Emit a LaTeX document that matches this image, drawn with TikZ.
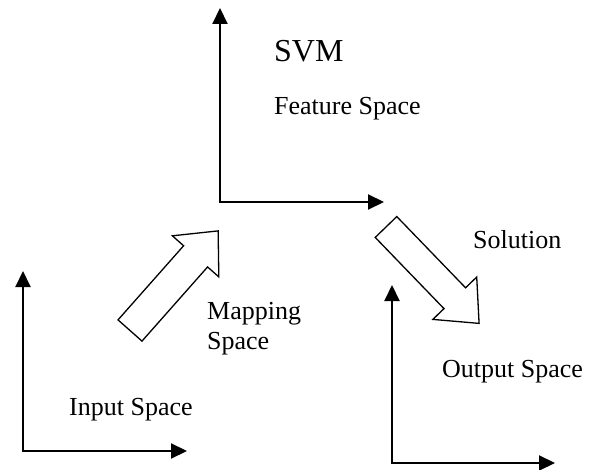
\documentclass[tikz,border=0pt]{standalone}
\usepackage{fontspec}
\setmainfont{Liberation Serif}
\usetikzlibrary{arrows.meta}
\tikzstyle{axis} = [draw, line width=2bp, {Triangle[length=16bp,width=15bp]}-{Triangle[length=16bp,width=15bp]}]
\tikzstyle{fat} = [draw, line width=1.3bp, line join=miter]
\tikzstyle{txt} = [inner sep=0pt, anchor=base west, align=left, font=\fontsize{26bp}{30bp}\selectfont]

\begin{document}
\begin{tikzpicture}[x=1bp, y=-1bp]
    \useasboundingbox (0,0) rectangle (597,470);

    % axes
    \coordinate (feat) at (220,202);
    \coordinate (featy) at (220,8);
    \coordinate (featx) at (384,202);
    \coordinate (inp) at (23,451);
    \coordinate (inpy) at (23,271);
    \coordinate (inpx) at (187,451);
    \coordinate (outp) at (392,463);
    \coordinate (outpy) at (392,285);
    \coordinate (outpx) at (555,463);

    \draw[axis] (featy) -- (feat) -- (featx);
    \draw[axis] (inpy) -- (inp) -- (inpx);
    \draw[axis] (outpy) -- (outp) -- (outpx);

    % fat arrows
    \begin{scope}[shift={(130,330.5)}, rotate=48.5]
    \draw[fat] (0,-16) -- (99,-16) -- (99,-31) -- (133,0) -- (99,31) -- (99,16) -- (0,16) -- cycle;
    \end{scope}
    \begin{scope}[shift={(386,227)}, rotate=-46]
    \draw[fat] (0,-15) -- (99,-15) -- (99,-30.5) -- (134,0) -- (99,30.5) -- (99,15) -- (0,15) -- cycle;
    \end{scope}

    % labels
    \node [txt, font=\fontsize{32bp}{36bp}\selectfont] (svm) at (274,62) {SVM};
    \node [txt] (feature) at (274,115) {Feature Space};
    \node [txt] (mapping) at (207,349) {Mapping\\Space};
    \node [txt] (solution) at (473,249) {Solution};
    \node [txt] (output) at (442,377) {Output Space};
    \node [txt] (input) at (69,415) {Input Space};
\end{tikzpicture}
\end{document}
